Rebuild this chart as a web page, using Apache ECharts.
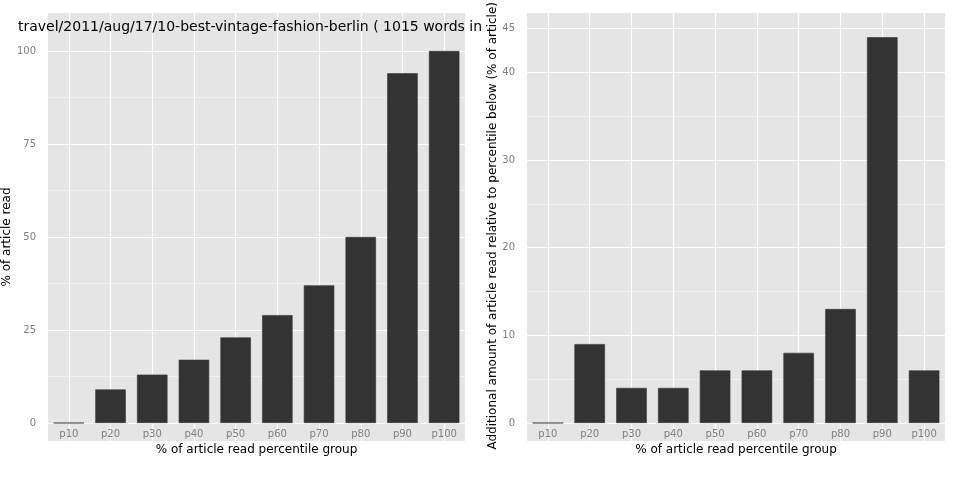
<!DOCTYPE html>
<html>
<head>
<meta charset="utf-8">
<script src="https://cdn.jsdelivr.net/npm/echarts@6/dist/echarts.min.js"></script>
<style>html,body{margin:0;padding:0;background:#fff}#c{width:960px;height:480px}</style>
</head>
<body>
<div id="c"></div>
<script>
var groups = ['p10','p20','p30','p40','p50','p60','p70','p80','p90','p100'];
var pctRead = [0, 9, 13, 17, 23, 29, 37, 50, 94, 100];
var additional = [0, 9, 4, 4, 6, 6, 8, 13, 44, 6];
var titleText = 'travel/2011/aug/17/10-best-vintage-fashion-berlin ( 1015 words in article )';

var chart = echarts.init(document.getElementById('c'));
var font = 'DejaVu Sans';
var lab = {color:'#7f7f7f', fontSize:10, fontFamily:font};
var axTitle = {color:'#000', fontSize:12, fontFamily:font};

//背景网格（整块面板，竖线）
function bgX(idx){
  return {type:'category', gridIndex:idx, data:groups, axisLine:{show:false}, axisTick:{show:false},
    axisLabel:{show:false}, splitLine:{show:true, alignWithLabel:true, lineStyle:{color:'#fff', width:1.2}}};
}
function bgY(idx){
  return {type:'value', gridIndex:idx, show:false, splitLine:{show:false}};
}
function mainX(idx){
  return {type:'category', gridIndex:idx, data:groups, axisLine:{show:false},
    axisTick:{show:false}, axisLabel:Object.assign({margin:6}, lab),
    splitLine:{show:false},
    name:'% of article read percentile group', nameLocation:'middle', nameGap:20, nameTextStyle:axTitle};
}

chart.setOption({
  backgroundColor:'#fff',
  title:{text:titleText, left:13, top:15, textStyle:{fontSize:14, fontWeight:'normal', fontFamily:font,
    color:'#000', width:466, overflow:'truncate', ellipsis:''}},
  grid:[
    {left:48, width:417, top:13, bottom:39, show:true, backgroundColor:'#E5E5E5', borderWidth:0},
    {left:48, width:417, top:51, bottom:57},
    {left:527, width:418, top:13, bottom:39, show:true, backgroundColor:'#E5E5E5', borderWidth:0},
    {left:527, width:418, top:25, bottom:57}
  ],
  xAxis:[bgX(0), mainX(1), bgX(2), mainX(3)],
  yAxis:[
    bgY(0),
    {type:'value', gridIndex:1, min:0, max:100, interval:25, axisLine:{show:false}, axisTick:{show:false},
     axisLabel:Object.assign({margin:12}, lab),
     splitLine:{lineStyle:{color:'#fff', width:1.2}},
     minorTick:{show:false, splitNumber:2}, minorSplitLine:{show:true, lineStyle:{color:'#F2F2F2', width:0.8}},
     name:'% of article read', nameLocation:'middle', nameGap:27, nameTextStyle:axTitle},
    bgY(2),
    {type:'value', gridIndex:3, min:0, max:45, interval:10, axisLine:{show:false}, axisTick:{show:false},
     axisLabel:Object.assign({margin:12}, lab),
     splitLine:{lineStyle:{color:'#fff', width:1.2}},
     minorTick:{show:false, splitNumber:2}, minorSplitLine:{show:true, lineStyle:{color:'#F2F2F2', width:0.8}},
     name:'Additional amount of article read relative to percentile below (% of article)',
     nameLocation:'middle', nameGap:24, nameTextStyle:axTitle}
  ],
  series:[
    {type:'bar', xAxisIndex:1, yAxisIndex:1, data:pctRead, barCategoryGap:'27%',
     itemStyle:{color:'#333333', borderColor:'#333333', borderWidth:0.6}, silent:true},
    {type:'bar', xAxisIndex:3, yAxisIndex:3, data:additional, barCategoryGap:'27%',
     itemStyle:{color:'#333333', borderColor:'#333333', borderWidth:0.6}, silent:true}
  ]
});
</script>
</body>
</html>
